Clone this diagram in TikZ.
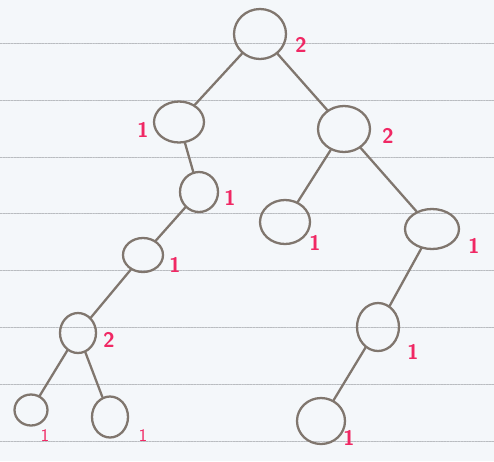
\documentclass[tikz,border=0pt]{standalone}
\usepackage{tikz}
\usetikzlibrary{shapes.geometric}

\definecolor{paper}{RGB}{244,247,250}
\definecolor{rule}{RGB}{185,188,192}
\definecolor{pencil}{RGB}{128,118,110}
\definecolor{ink}{RGB}{240,40,100}

\begin{document}
\begin{tikzpicture}[
    x=0.02cm, y=-0.02cm,
    vertex/.style={
        ellipse, draw=pencil, line width=1.3pt, inner sep=0pt
    },
    weight/.style={text=ink, font=\sffamily\bfseries\large},
    thinweight/.style={text=ink, font=\sffamily},
    every path/.style={line cap=round},
    branch/.style={draw=pencil, line width=1.3pt}
]

% --- Paper ---
\fill[paper] (0,0) rectangle (494,461);
\useasboundingbox (0,0) rectangle (494,461);
\foreach \y in {43,100,157,213,270,327,384,441}
    \draw[rule, line width=0.5pt, dash pattern=on 1pt off 0.6pt] (0,\y) -- (494,\y);

% --- Nodes ---
\node[vertex, minimum width=1.04cm, minimum height=1.0cm] (root) at (260,34) {};
\node[vertex, minimum width=1.0cm, minimum height=0.82cm] (a) at (179,122) {};
\node[vertex, minimum width=1.04cm, minimum height=0.92cm] (b) at (344,129) {};
\node[vertex, minimum width=0.76cm, minimum height=0.8cm] (aa) at (199,192) {};
\node[vertex, minimum width=0.8cm, minimum height=0.68cm] (aaa) at (143,255) {};
\node[vertex, minimum width=0.72cm, minimum height=0.8cm] (aaaa) at (78,333) {};
\node[vertex, minimum width=0.66cm, minimum height=0.62cm] (aaaal) at (31,410) {};
\node[vertex, minimum width=0.72cm, minimum height=0.82cm] (aaaar) at (110,417) {};
\node[vertex, minimum width=1.0cm, minimum height=0.88cm] (bl) at (285,222) {};
\node[vertex, minimum width=1.08cm, minimum height=0.8cm] (br) at (432,229) {};
\node[vertex, minimum width=0.84cm, minimum height=0.96cm] (brr) at (378,327) {};
\node[vertex, minimum width=0.96cm, minimum height=0.92cm] (brrr) at (321,421) {};

% --- Edges ---
\draw[branch] (root) -- (a);
\draw[branch] (root) -- (b);
\draw[branch] (a) -- (aa);
\draw[branch] (aa) -- (aaa);
\draw[branch] (aaa) -- (aaaa);
\draw[branch] (aaaa) -- (aaaal);
\draw[branch] (aaaa) -- (aaaar);
\draw[branch] (b) -- (bl);
\draw[branch] (b) -- (br);
\draw[branch] (br) -- (brr);
\draw[branch] (brr) -- (brrr);

% --- Weights ---
\node[weight] (rootw) at (301,45) {2};
\node[weight] (aw) at (143,130) {1};
\node[weight] (bw) at (388,136) {2};
\node[weight] (aaw) at (230,198) {1};
\node[weight] (aaaw) at (175,265) {1};
\node[weight] (aaaaw) at (109,340) {2};
\node[thinweight] (aaaalw) at (45,436) {1};
\node[thinweight] (aaaarw) at (143,436) {1};
\node[weight] (blw) at (315,243) {1};
\node[weight] (brw) at (474,246) {1};
\node[weight] (brrw) at (413,352) {1};
\node[weight] (brrrw) at (349,438) {1};

\end{tikzpicture}
\end{document}
